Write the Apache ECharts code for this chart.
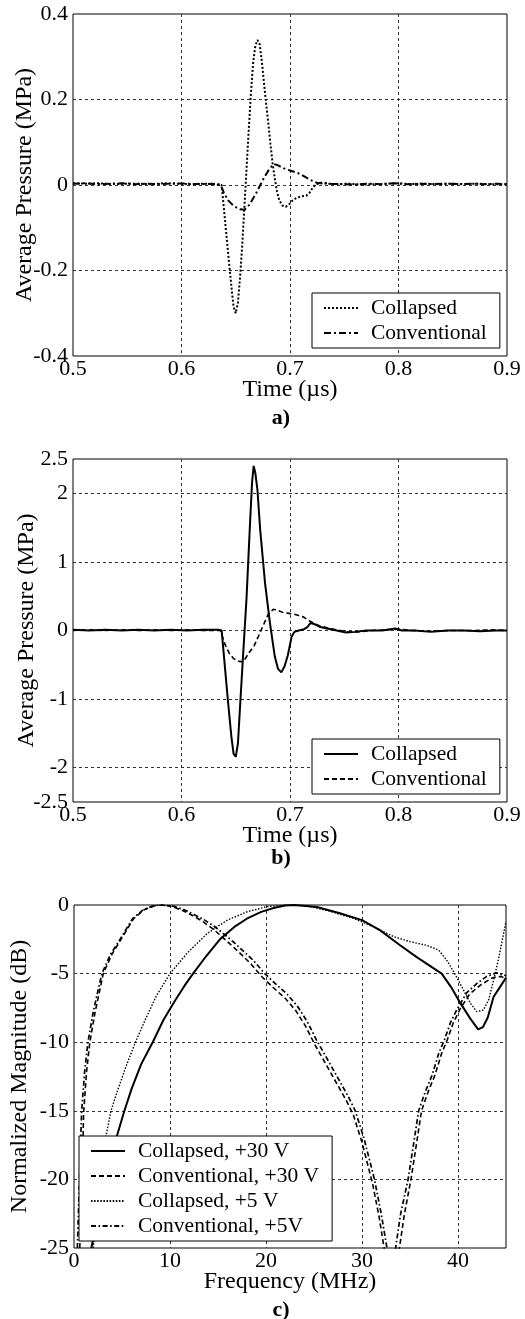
<!DOCTYPE html>
<html><head><meta charset="utf-8">
<script src="https://cdn.jsdelivr.net/npm/echarts/dist/echarts.min.js"></script>
<style>html,body{margin:0;padding:0;background:#fff}#c{width:525px;height:1319px}</style>
</head><body><div id="c"></div>
<script>
// ---------- Panel a) ----------
const timeA_col = [0.500,0.512,0.524,0.536,0.548,0.560,0.572,0.584,0.596,0.608,0.620,0.630,0.637,0.640,0.643,0.646,0.648,0.650,0.652,0.654,0.656,0.658,0.660,0.662,0.664,0.666,0.668,0.670,0.672,0.674,0.676,0.678,0.680,0.682,0.684,0.686,0.688,0.690,0.693,0.696,0.699,0.702,0.706,0.710,0.715,0.718,0.721,0.724,0.730,0.742,0.754,0.766,0.778,0.790,0.800,0.812,0.824,0.836,0.848,0.860,0.872,0.884,0.900];
const presA_col = [0.004,0.003,0.004,0.002,0.003,0.003,0.002,0.004,0.003,0.002,0.003,0.002,0.000,-0.080,-0.160,-0.238,-0.285,-0.300,-0.275,-0.215,-0.140,-0.050,0.040,0.130,0.215,0.285,0.325,0.339,0.330,0.290,0.240,0.190,0.145,0.095,0.050,0.015,-0.015,-0.035,-0.048,-0.051,-0.046,-0.037,-0.030,-0.027,-0.025,-0.018,-0.006,0.002,0.004,0.002,0.003,0.001,0.002,0.003,0.004,0.002,0.003,0.002,0.003,0.002,0.003,0.002,0.002];
const timeA_conv = [0.500,0.510,0.522,0.534,0.546,0.558,0.570,0.582,0.594,0.606,0.618,0.628,0.636,0.639,0.643,0.648,0.654,0.658,0.663,0.669,0.675,0.681,0.685,0.688,0.692,0.696,0.700,0.705,0.709,0.714,0.718,0.722,0.726,0.730,0.737,0.748,0.760,0.772,0.784,0.796,0.808,0.820,0.832,0.844,0.856,0.868,0.880,0.892,0.900];
const presA_conv = [0.003,0.004,0.002,0.003,0.004,0.002,0.003,0.002,0.004,0.003,0.002,0.003,0.001,-0.018,-0.036,-0.049,-0.057,-0.058,-0.045,-0.018,0.012,0.038,0.049,0.047,0.042,0.037,0.034,0.030,0.026,0.019,0.013,0.008,0.004,0.006,0.003,0.002,0.001,0.003,0.002,0.004,0.002,0.003,0.002,0.003,0.002,0.003,0.002,0.003,0.002];

// ---------- Panel b) ----------
const timeB_col = [0.500,0.515,0.530,0.545,0.560,0.575,0.590,0.605,0.620,0.634,0.637,0.640,0.643,0.646,0.648,0.650,0.652,0.654,0.657,0.660,0.663,0.665,0.6665,0.668,0.670,0.6725,0.677,0.6815,0.686,0.689,0.692,0.695,0.698,0.7015,0.704,0.708,0.713,0.716,0.719,0.723,0.728,0.734,0.740,0.746,0.752,0.760,0.770,0.785,0.797,0.803,0.815,0.830,0.845,0.860,0.875,0.890,0.900];
const presB_col = [0.01,0.0,0.01,0.0,0.01,0.0,0.01,0.0,0.01,0.01,0.0,-0.53,-1.06,-1.55,-1.80,-1.84,-1.65,-1.10,-0.30,0.49,1.51,2.15,2.40,2.30,2.05,1.47,0.69,0.11,-0.38,-0.56,-0.61,-0.52,-0.36,-0.09,-0.02,0.0,0.02,0.05,0.11,0.09,0.05,0.03,0.01,-0.01,-0.03,-0.02,0.0,0.0,0.03,0.0,0.0,-0.02,0.0,0.0,-0.01,0.0,0.0];
const timeB_conv = [0.500,0.515,0.530,0.545,0.560,0.575,0.590,0.605,0.620,0.636,0.640,0.644,0.648,0.653,0.657,0.662,0.667,0.671,0.6755,0.680,0.6846,0.689,0.694,0.699,0.703,0.708,0.712,0.717,0.7215,0.727,0.734,0.743,0.752,0.762,0.775,0.790,0.800,0.812,0.830,0.850,0.870,0.885,0.900];
const presB_conv = [0.0,0.01,0.0,0.01,0.0,0.01,0.0,0.01,0.0,0.0,-0.20,-0.33,-0.41,-0.45,-0.455,-0.33,-0.22,-0.08,0.08,0.24,0.31,0.29,0.26,0.25,0.24,0.22,0.20,0.15,0.11,0.07,0.04,0.01,-0.02,-0.02,0.0,0.01,0.02,0.0,-0.01,0.0,0.0,0.01,0.0];

// ---------- Panel c) ----------
const freqC_col30 = [1.8,2.8,3.6,4.4,5.25,6.0,7.0,8.2,9.3,10.5,11.5,12.4,13.8,15.2,16.7,18.0,19.5,20.8,22.0,23.0,25.3,27.7,30.0,31.9,34.0,35.7,37.0,38.3,39.3,40.2,41.3,42.1,42.6,43.1,43.7,44.4,45.0];
const magC_col30 = [-25,-21.8,-19.3,-17.0,-15.0,-13.4,-11.6,-10.0,-8.4,-7.0,-5.9,-5.0,-3.7,-2.5,-1.6,-1.0,-0.5,-0.22,-0.03,0,-0.15,-0.6,-1.1,-1.85,-2.95,-3.8,-4.4,-5.0,-6.0,-7.1,-8.3,-9.06,-8.9,-8.2,-6.7,-5.95,-5.3];
const freqC_conv30 = [0.6,0.75,0.9,1.0,1.3,1.65,2.2,3.05,3.95,4.9,6.2,7.3,8.4,9.2,10.2,11.3,12.3,13.3,14.4,15.4,16.5,17.5,18.5,19.6,20.8,22.0,23.1,24.1,25.1,26.0,26.8,27.6,28.4,29.1,30.0,31.1,31.8,32.3,33.0,33.9,34.4,35.1,35.7,36.2,36.9,37.6,38.3,38.9,39.5,40.2,41.2,42.4,43.6,44.5,45.0];
const magC_conv30 = [-25,-21.5,-18,-15.2,-12.2,-10,-7.8,-5.0,-3.6,-2.5,-1.0,-0.35,-0.05,0,-0.1,-0.4,-0.75,-1.15,-1.7,-2.3,-3.0,-3.65,-4.35,-5.25,-6.05,-6.8,-7.7,-8.8,-10.2,-11.3,-12.3,-13.3,-14.3,-15.3,-17.3,-20.3,-22.8,-25,-35,-25,-22.6,-20,-17.3,-15,-13.6,-12.4,-10.8,-9.8,-8.6,-7.6,-6.5,-5.8,-5.3,-5.2,-5.4];
const freqC_col5 = [2.0,2.6,3.2,3.85,4.5,5.4,6.4,7.4,8.6,10.0,11.8,13.9,16.0,18.05,20.1,22.2,24.3,26.4,29.1,31.2,33.3,35.0,36.8,38.0,38.8,39.5,40.2,41.3,41.96,42.65,43.2,43.7,44.2,44.6,45.0];
const magC_col5 = [-25,-21,-17.3,-15,-13.6,-11.8,-10,-8.4,-6.6,-5.0,-3.5,-2.06,-1.09,-0.49,-0.12,0,-0.07,-0.41,-0.97,-1.58,-2.31,-2.67,-2.95,-3.3,-4.0,-4.8,-5.7,-7.17,-7.77,-7.65,-6.9,-5.5,-4.0,-2.6,-1.2];
const freqC_conv5 = [0.35,0.5,0.65,0.8,1.1,1.45,2.0,2.9,3.8,4.8,6.1,7.2,8.3,9.0,10.4,11.5,12.5,13.5,14.6,15.6,16.7,17.7,18.7,19.8,21.0,22.2,23.3,24.3,25.3,26.2,27.0,27.8,28.6,29.3,30.2,31.3,32.0,32.6,33.1,33.5,34.0,34.8,35.4,35.9,36.6,37.3,38.0,38.6,39.2,39.9,40.9,42.0,43.0,44.0,45.0];
const magC_conv5 = [-25,-21.5,-18,-15,-12.2,-10,-7.8,-5.0,-3.6,-2.5,-1.0,-0.35,-0.05,0,-0.1,-0.35,-0.7,-1.05,-1.55,-2.1,-2.75,-3.4,-4.05,-4.95,-5.75,-6.5,-7.4,-8.5,-9.9,-11.0,-12.0,-13.0,-14.0,-15.0,-17.0,-20.0,-22.5,-25,-35,-25,-22.6,-20,-17.3,-15,-13.6,-12.4,-10.8,-9.8,-8.6,-7.6,-6.4,-5.7,-5.2,-4.95,-5.15];

// ---------- Tick / label text ----------
const axisNamesX = ['Time (µs)', 'Time (µs)', 'Frequency (MHz)'];
const axisNamesY = ['Average Pressure (MPa)', 'Average Pressure (MPa)', 'Normalized Magnitude (dB)'];
const panelLabels = ['a)', 'b)', 'c)'];
const legendA = ['Collapsed', 'Conventional'];
const legendB = ['Collapsed', 'Conventional'];
const legendC = ['Collapsed, +30 V', 'Conventional, +30 V', 'Collapsed, +5 V', 'Conventional, +5V'];

const F = 'Liberation Serif';
const FS_TICK = 22, FS_NAME = 24, FS_LEG = 21.5;
const zip = (xs, ys) => xs.map((x, i) => [x, ys[i]]);
const gl = { type: [3, 3], color: '#333', width: 1 };

const SOLID = { type: 'solid', width: 2, color: '#000' };
const DASHED = { type: [5, 3], width: 1.6, color: '#000' };
const DOTTED_A = { type: [2, 2], width: 2, color: '#000' };
const DOTTED_C = { type: [1.5, 1.6], width: 1.4, color: '#000' };
const DASHDOT_A = { type: [7, 3, 2, 3], width: 2, color: '#000' };
const DASHDOT_C = { type: [5, 2.5, 1.6, 2.5], width: 1.7, color: '#000' };

function line(name, xs, ys, idx, style) {
  return { type: 'line', name: name, xAxisIndex: idx, yAxisIndex: idx, data: zip(xs, ys),
    symbol: 'none', showSymbol: false, lineStyle: style, itemStyle: { color: '#000' },
    animation: false, clip: true, z: 3 };
}

function xAx(idx, min, max, interval, fmt) {
  return { gridIndex: idx, type: 'value', min: min, max: max, interval: interval,
    axisLine: { show: false }, axisTick: { show: false },
    axisLabel: { color: '#000', fontFamily: F, fontSize: FS_TICK, margin: 2, formatter: fmt },
    splitLine: { show: true, lineStyle: gl, showMinLine: false, showMaxLine: false },
    name: axisNamesX[idx], nameLocation: 'middle', nameGap: 22, nameMoveOverlap: false,
    nameTextStyle: { color: '#000', fontFamily: F, fontSize: FS_NAME } };
}
function yAx(idx, min, max, interval, fmt, gap, split) {
  return { gridIndex: idx, type: 'value', min: min, max: max, interval: interval,
    axisLine: { show: false }, axisTick: { show: false },
    axisLabel: { color: '#000', fontFamily: F, fontSize: FS_TICK, margin: 5, formatter: fmt },
    splitLine: split || { show: true, lineStyle: gl, showMinLine: false, showMaxLine: false },
    name: axisNamesY[idx], nameLocation: 'middle', nameGap: gap, nameMoveOverlap: false,
    nameTextStyle: { color: '#000', fontFamily: F, fontSize: FS_NAME } };
}
function legend(left, top, names) {
  return { left: left, top: top, orient: 'vertical', data: names, selectedMode: false,
    formatter: n => n.split('|')[0],
    itemWidth: 34, itemHeight: 14, itemGap: 3, padding: [4, 13, 4, 11],
    itemStyle: { opacity: 0, color: 'rgba(0,0,0,0)', borderWidth: 0 },
    borderColor: '#000', borderWidth: 1, backgroundColor: '#fff',
    textStyle: { fontFamily: F, fontSize: FS_LEG, color: '#000', lineHeight: 22, padding: [0, 0, 0, 8] } };
}

const fmt1 = v => { const r = Math.round(v * 10) / 10; return r === 0 ? '0' : r.toFixed(1); };
const fmtB = v => { const r = Math.round(v * 10) / 10; if (Math.abs(r) === 2.5 || Number.isInteger(r)) return String(r); return ''; };
const fmtInt = v => { const r = Math.round(v); return r % 10 === 0 ? String(r) : ''; };
const fmtC = v => String(Math.round(v));

const chart = echarts.init(document.getElementById('c'), null, { renderer: 'canvas' });
chart.setOption({
  backgroundColor: '#fff',
  animation: false,
  grid: [
    { left: 73, top: 14, width: 434, height: 342, show: true, borderColor: '#000', borderWidth: 1, backgroundColor: 'transparent' },
    { left: 73, top: 459, width: 434, height: 343, show: true, borderColor: '#000', borderWidth: 1, backgroundColor: 'transparent' },
    { left: 73, top: 905, width: 433, height: 343, show: true, borderColor: '#000', borderWidth: 1, backgroundColor: 'transparent' }
  ],
  xAxis: [
    xAx(0, 0.5, 0.9, 0.1, fmt1),
    xAx(1, 0.5, 0.9, 0.1, fmt1),
    xAx(2, 0, 45, 10, fmtInt)
  ],
  yAxis: [
    yAx(0, -0.4, 0.4, 0.2, fmt1, 36),
    yAx(1, -2.5, 2.5, 0.5, fmtB, 34, { show: true, lineStyle: Object.assign({}, gl, { color: ['rgba(0,0,0,0)', '#333'] }) }),
    yAx(2, -25, 0, 5, fmtC, 42)
  ],
  legend: [
    legend(312, 293, legendA.map(n => n + '|a')),
    legend(312, 739, legendB.map(n => n + '|b')),
    legend(79, 1136, legendC.map(n => n + '|c'))
  ],
  graphic: panelLabels.map((t, i) => ({
    type: 'text', x: 281, y: [418, 858, 1310][i],
    style: { text: t, align: 'center', verticalAlign: 'middle', font: 'bold 22px "Liberation Serif"', fill: '#000' }
  })),
  series: [
    line(legendA[0] + '|a', timeA_col, presA_col, 0, DOTTED_A),
    line(legendA[1] + '|a', timeA_conv, presA_conv, 0, DASHDOT_A),
    line(legendB[0] + '|b', timeB_col, presB_col, 1, SOLID),
    line(legendB[1] + '|b', timeB_conv, presB_conv, 1, DASHED),
    line(legendC[0] + '|c', freqC_col30, magC_col30, 2, SOLID),
    line(legendC[1] + '|c', freqC_conv30, magC_conv30, 2, DASHED),
    line(legendC[2] + '|c', freqC_col5, magC_col5, 2, DOTTED_C),
    line(legendC[3] + '|c', freqC_conv5, magC_conv5, 2, DASHDOT_C)
  ]
});
</script></body></html>
